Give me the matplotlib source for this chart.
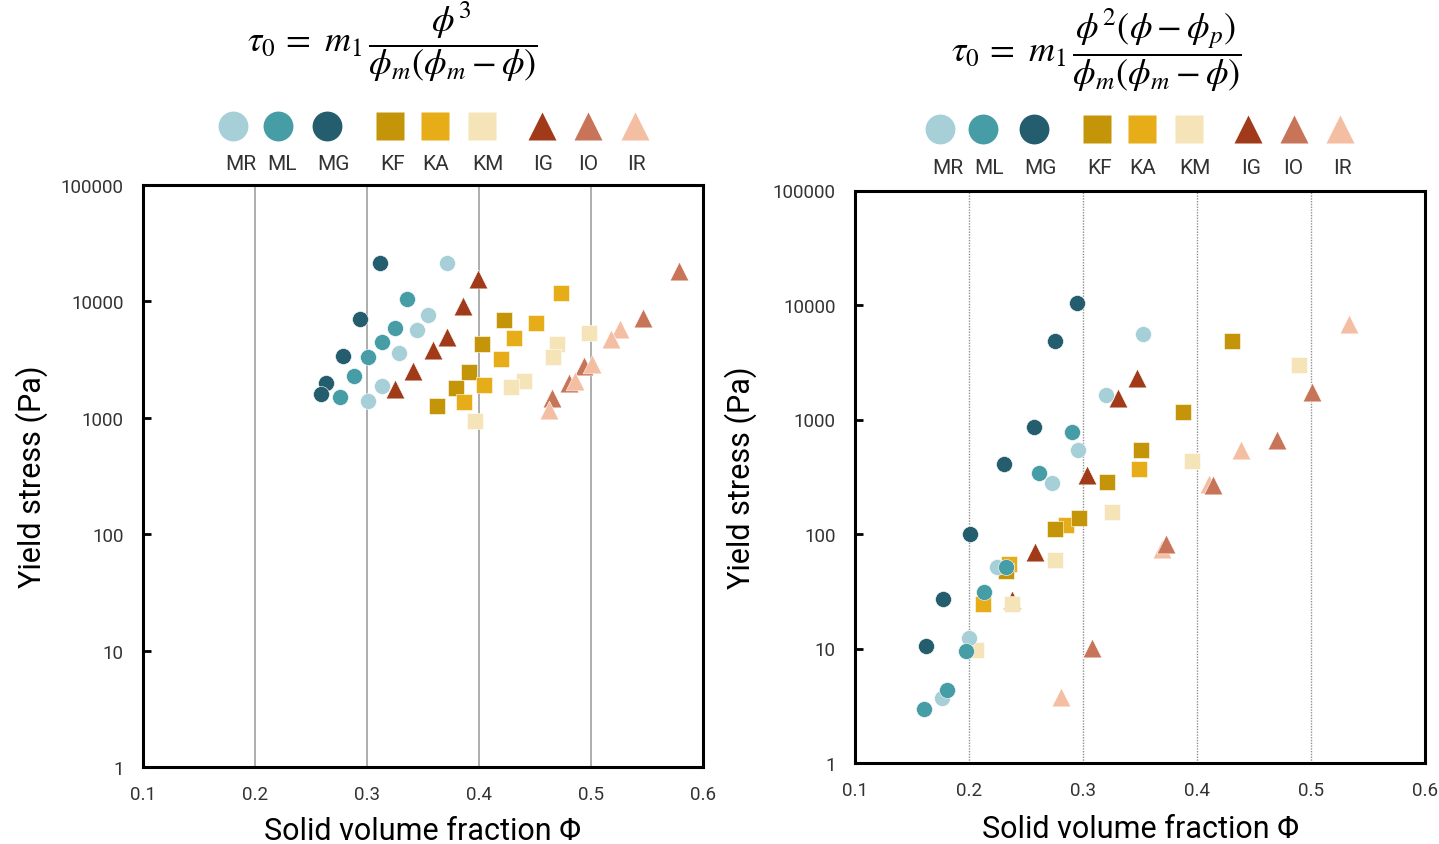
import matplotlib
matplotlib.use("Agg")
import matplotlib.pyplot as plt
from matplotlib.lines import Line2D
import numpy as np

plt.rcParams['font.family'] = ['Roboto', 'DejaVu Sans']
plt.rcParams['mathtext.fontset'] = 'stix'

# ---------------- data: left panel (phi^3 model) ----------------
MR_L_x = [0.3717, 0.3548, 0.3449, 0.3289, 0.3137, 0.3012]
MR_L_y = [21500, 7640, 5720, 3620, 1890, 1400]
ML_L_x = [0.3354, 0.3253, 0.3131, 0.3012, 0.2881, 0.2762]
ML_L_y = [10400, 5900, 4480, 3310, 2270, 1500]
MG_L_x = [0.3116, 0.2938, 0.2789, 0.2634, 0.2586]
MG_L_y = [21500, 7100, 3370, 1980, 1590]
KF_L_x = [0.4223, 0.4027, 0.3911, 0.3795, 0.3625]
KF_L_y = [6920, 4300, 2470, 1820, 1270]
KA_L_x = [0.4732, 0.4509, 0.4313, 0.4196, 0.4045, 0.3866]
KA_L_y = [11900, 6560, 4880, 3220, 1920, 1370]
KM_L_x = [0.4982, 0.4696, 0.4661, 0.4402, 0.4286, 0.3964]
KM_L_y = [5390, 4340, 3350, 2080, 1850, 940]
IG_L_x = [0.3994, 0.3857, 0.3714, 0.3589, 0.3413, 0.3250]
IG_L_y = [15500, 9180, 4920, 3820, 2540, 1770]
IO_L_x = [0.5789, 0.5467, 0.4935, 0.4806, 0.4649]
IO_L_y = [18200, 7250, 2790, 1980, 1490]
IR_L_x = [0.5259, 0.5181, 0.5012, 0.4854, 0.4628]
IR_L_y = [5750, 4760, 2900, 2080, 1170]

# ---------------- data: right panel (phi^2(phi-phi_p) model) ----------------
MR_R_x = [0.3526, 0.3204, 0.2956, 0.2728, 0.2246, 0.1997, 0.1761]
MR_R_y = [5570, 1630, 538, 281, 51.3, 12.3, 3.72]
ML_R_x = [0.2901, 0.2614, 0.2325, 0.2135, 0.1974, 0.1810, 0.1603]
ML_R_y = [772, 340, 51.6, 31.3, 9.55, 4.37, 2.96]
MG_R_x = [0.2947, 0.2757, 0.2568, 0.2304, 0.2009, 0.1775, 0.1623]
MG_R_y = [10400, 4880, 867, 409, 100, 26.8, 10.5]
KF_R_x = [0.4305, 0.3875, 0.3506, 0.3211, 0.2965, 0.2754, 0.2325]
KF_R_y = [4810, 1160, 538, 285, 138, 111, 47.3]
KA_R_x = [0.3491, 0.2851, 0.2348, 0.2123]
KA_R_y = [367, 119, 55.1, 24.4]
KM_R_x = [0.4895, 0.3956, 0.3254, 0.2752, 0.2377, 0.2061]
KM_R_y = [2970, 432, 156, 59.4, 24.4, 9.7]
IG_R_x = [0.3474, 0.3307, 0.3032, 0.2582, 0.2377]
IG_R_y = [2320, 1550, 326, 69.8, 26.4]
IO_R_x = [0.5011, 0.4704, 0.4143, 0.3725, 0.3076]
IO_R_y = [1740, 658, 267, 81.5, 10.1]
IR_R_x = [0.5331, 0.4389, 0.4102, 0.3690, 0.2807]
IR_R_y = [6780, 538, 276, 74.7, 3.8]

labels = ['MR', 'ML', 'MG', 'KF', 'KA', 'KM', 'IG', 'IO', 'IR']
colors = {'MR': '#A6CFD8', 'ML': '#469DA6', 'MG': '#245E6E',
          'KF': '#C49508', 'KA': '#E6AD18', 'KM': '#F5E4B8',
          'IG': '#A13A18', 'IO': '#C87458', 'IR': '#F4BEA2'}
markers = {'MR': 'o', 'ML': 'o', 'MG': 'o', 'KF': 's', 'KA': 's', 'KM': 's',
           'IG': '^', 'IO': '^', 'IR': '^'}
msize = {'o': 11.5, 's': 11.5, '^': 13.5}

x_ticks = [0.1, 0.2, 0.3, 0.4, 0.5, 0.6]
y_ticks = [1, 10, 100, 1000, 10000, 100000]
y_ticklabels = ['1', '10', '100', '1000', '10000', '100000']

left_series = {
    'MG': (MG_L_x, MG_L_y), 'ML': (ML_L_x, ML_L_y), 'MR': (MR_L_x, MR_L_y),
    'IG': (IG_L_x, IG_L_y), 'KF': (KF_L_x, KF_L_y), 'KA': (KA_L_x, KA_L_y),
    'KM': (KM_L_x, KM_L_y), 'IO': (IO_L_x, IO_L_y), 'IR': (IR_L_x, IR_L_y)}
right_series = {
    'IG': (IG_R_x, IG_R_y), 'IR': (IR_R_x, IR_R_y), 'IO': (IO_R_x, IO_R_y),
    'KA': (KA_R_x, KA_R_y), 'KM': (KM_R_x, KM_R_y), 'KF': (KF_R_x, KF_R_y),
    'MR': (MR_R_x, MR_R_y), 'ML': (ML_R_x, ML_R_y), 'MG': (MG_R_x, MG_R_y)}

W, H = 1439, 845
fig = plt.figure(figsize=(W / 100, H / 100), dpi=100)

def px(x0, y0, x1, y1):
    return [x0 / W, 1 - y1 / H, (x1 - x0) / W, (y1 - y0) / H]

axL = fig.add_axes(px(143, 186, 703, 768))
axR = fig.add_axes(px(855, 191.5, 1425, 764))

def style(ax, series, gridstyle):
    for k, (xs, ys) in series.items():
        m = markers[k]
        ax.scatter(xs, ys, s=msize[m] ** 2, marker=m, c=colors[k],
                   edgecolors='white', linewidths=0.4, zorder=3)
    ax.set_yscale('log')
    ax.set_xlim(0.1, 0.6)
    ax.set_ylim(1, 100000)
    ax.set_xticks(x_ticks)
    ax.set_xticklabels([f'{v:g}' for v in x_ticks])
    ax.set_yticks(y_ticks)
    ax.set_yticklabels(y_ticklabels)
    ax.yaxis.set_minor_locator(matplotlib.ticker.NullLocator())
    ax.tick_params(axis='y', direction='in', length=6, width=2, pad=14,
                   labelsize=13.5, labelcolor='#333333')
    ax.tick_params(axis='x', length=0, pad=13, labelsize=13.5, labelcolor='#333333')
    for sp in ax.spines.values():
        sp.set_linewidth(2.2)
        sp.set_color('black')
    for gx in [0.2, 0.3, 0.4, 0.5]:
        if gridstyle == 'solid':
            ax.axvline(gx, color='#A0A0A0', lw=1.2, zorder=1)
        else:
            ax.axvline(gx, color='#909090', lw=1.0, ls=(0, (1, 1)), zorder=1)
    ax.set_ylabel('Yield stress (Pa)', fontsize=22, color='black')
    ax.set_xlabel('Solid volume fraction Φ', fontsize=22, color='black')

style(axL, left_series, 'solid')
style(axR, right_series, 'dotted')
axL.yaxis.set_label_coords(-0.17, 0.5)
axR.yaxis.set_label_coords(-0.172, 0.5)
axL.xaxis.set_label_coords(0.5, -0.084)
axR.xaxis.set_label_coords(0.5, -0.089)

# titles (equations)
fig.text(392 / W, 1 - 42 / H, r'$\tau_0\,=\ m_1\,\dfrac{\phi^3}{\phi_m(\phi_m-\phi)}$',
         fontsize=26, ha='center', va='center')
fig.text(1096 / W, 1 - 50 / H, r'$\tau_0\,=\ m_1\,\dfrac{\phi^2(\phi-\phi_p)}{\phi_m(\phi_m-\phi)}$',
         fontsize=26, ha='center', va='center')

# custom legends
legL_mx = [233, 278, 327, 390, 435, 482, 542, 588, 635]
legL_tx = [241, 282, 333, 393, 436, 488, 543, 588, 636]
legR_mx = [940, 983, 1034, 1097, 1142, 1189, 1248, 1294, 1340]
legR_tx = [948, 989, 1040, 1100, 1143, 1195, 1251, 1293, 1342]
legsize = {'o': 21.5, 's': 20.5, '^': 20.5}

def legend(mx, tx, my, ty):
    for k, x1, x2 in zip(labels, mx, tx):
        m = markers[k]
        fig.add_artist(Line2D([x1 / W], [1 - my / H], marker=m, ls='none',
                              markersize=legsize[m], color=colors[k],
                              markeredgecolor='none', transform=fig.transFigure))
        fig.text(x2 / W, 1 - ty / H, k, fontsize=15, color='#333333',
                 ha='center', va='center')

legend(legL_mx, legL_tx, 127, 165)
legend(legR_mx, legR_tx, 130, 168)

fig.savefig('out.png', dpi=100)
